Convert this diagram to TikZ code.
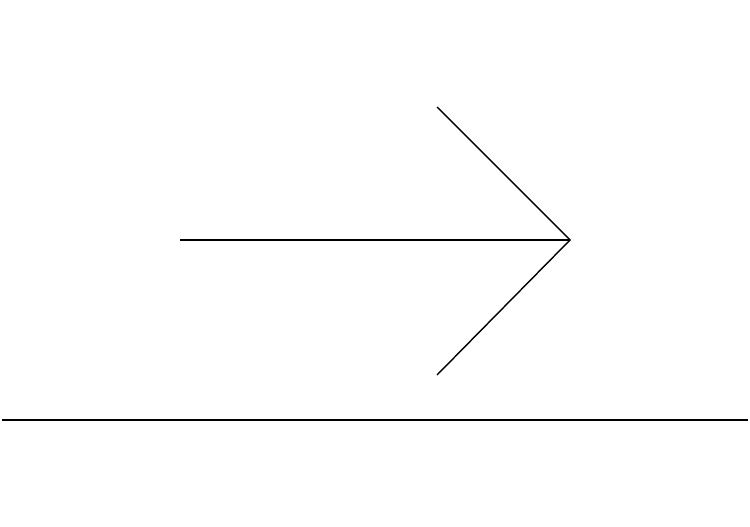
\documentclass[tikz,border=0pt]{standalone}
\usepackage{tikz}
\usetikzlibrary{calc}
\begin{document}
\begin{tikzpicture}[x=0.02cm,y=-0.02cm,line width=0.8pt]
\useasboundingbox (0,0) rectangle (750,527);
\coordinate (tail) at (180,240);
\coordinate (tip) at (570,240);
\coordinate (barbup) at (437,107);
\coordinate (barbdown) at (437,375);
\coordinate (groundl) at (2,420);
\coordinate (groundr) at (748,420);
\draw (tail) -- (tip);
\draw (barbup) -- (tip) -- (barbdown);
\draw (groundl) -- (groundr);
\end{tikzpicture}
\end{document}
